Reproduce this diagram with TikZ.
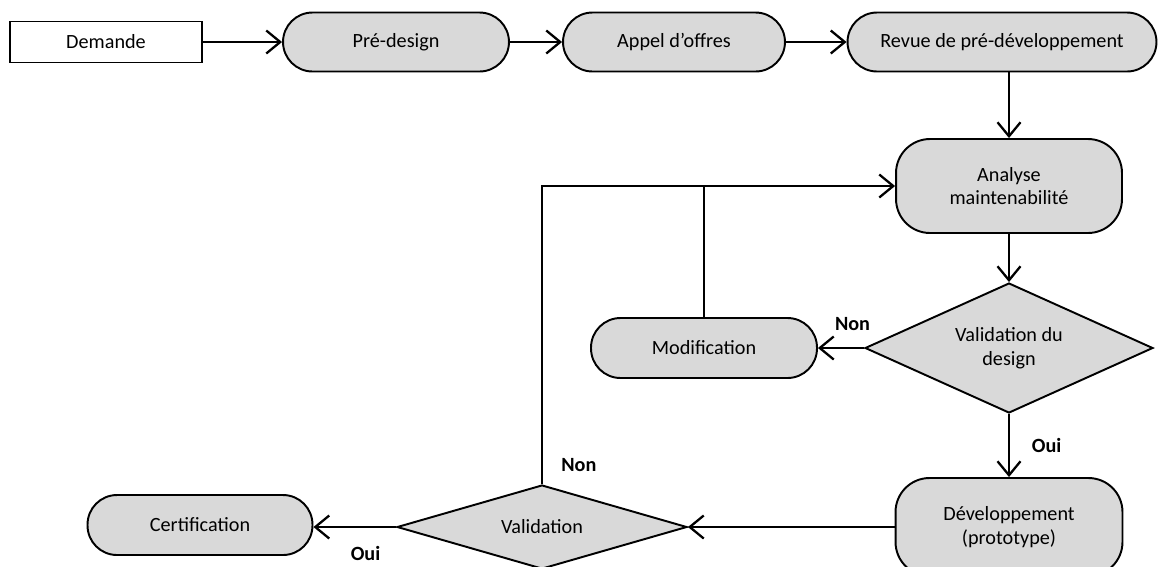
\documentclass[tikz,border=0pt]{standalone}
\usepackage{fontspec}
\setmainfont{Carlito}
\usepackage{tikz}
\usetikzlibrary{shapes,arrows.meta}
\tikzset{etape/.style={draw,fill=black!15,line width=1.1pt,rounded corners=0.59cm,align=center,inner sep=0pt}}
\tikzset{choix/.style={draw,diamond,shape aspect=2.2,fill=black!15,line width=1.1pt,align=center,inner sep=0pt}}
\tikzset{fleche/.style={line width=1.4pt,-{Straight Barb[length=2.8mm,width=4.6mm,line width=1.3pt]}}}
\tikzset{rep/.style={font=\fontsize{11.5}{13}\selectfont\bfseries}}

\begin{document}
\begin{tikzpicture}[x=0.02cm,y=-0.02cm,font=\fontsize{11.5}{13.5}\selectfont]
\useasboundingbox (0,0) rectangle (1159,566);
\node[draw,line width=1.1pt,minimum width=3.84cm,minimum height=0.82cm] (dem) at (106,42) {Demande};
\node[etape,minimum width=4.52cm,minimum height=1.18cm] (pre) at (396,42) {Pré-design};
\node[etape,minimum width=4.44cm,minimum height=1.18cm] (app) at (674,42) {Appel d’offres};
\node[etape,minimum width=6.18cm,minimum height=1.18cm] (rev) at (1002,42) {Revue de pré-développement};
\node[etape,rounded corners=0.68cm,minimum width=4.52cm,minimum height=1.88cm] (ana) at (1009,186) {Analyse\\maintenabilité};
\node[choix,minimum width=5.76cm,minimum height=2.6cm] (vdes) at (1009,348) {Validation du\\design};
\node[etape,minimum width=4.52cm,minimum height=1.2cm] (mod) at (704,348) {Modification};
\node[etape,rounded corners=0.68cm,minimum width=4.54cm,minimum height=1.96cm] (dev) at (1009,527) {Développement\\(prototype)};
\node[choix,minimum width=5.8cm,minimum height=1.68cm] (val) at (542,527) {Validation};
\node[etape,minimum width=4.5cm,minimum height=1.2cm] (cert) at (200,525) {Certification};

\draw[fleche] (dem) -- (pre);
\draw[fleche] (pre) -- (app);
\draw[fleche] (app) -- (rev);
\draw[fleche] (vdes.north |- rev.south) -- (vdes.north |- ana.north);
\draw[fleche] (vdes.north |- ana.south) -- (vdes.north);
\draw[fleche] (vdes.west) -- (mod.east) node[rep,pos=0.25,above=6pt] {Non};
\draw[line width=1.4pt] (mod.north) -- (mod.north |- ana.west);
\draw[fleche] (val.north) |- (ana.west) node[rep,pos=0.032,right=7pt] {Non};
\draw[fleche] (vdes.south) -- (vdes.south |- dev.north) node[rep,midway,right=9pt] {Oui};
\draw[fleche] (dev.west |- val.east) -- (val.east);
\draw[fleche] (val.west) -- (val.west -| cert.east) node[rep,pos=0.37,below=7pt] {Oui};
\end{tikzpicture}
\end{document}
